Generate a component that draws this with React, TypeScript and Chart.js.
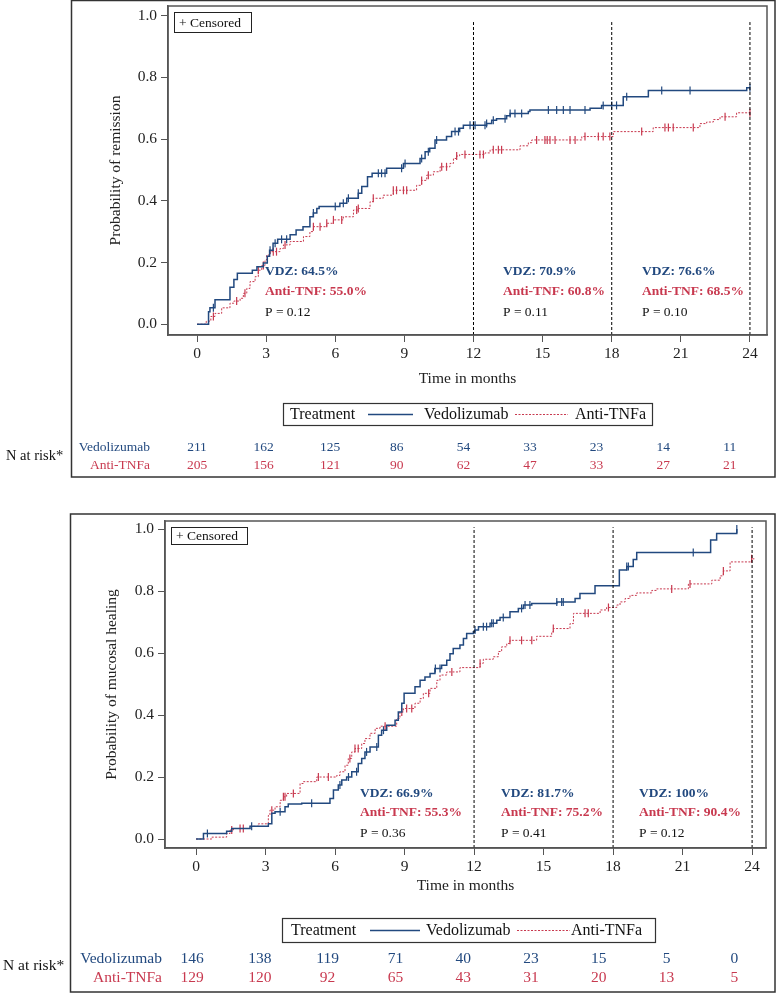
import React, { useEffect, useRef } from "react";
import { Chart, registerables } from "chart.js";

Chart.register(...registerables);

type Pt = [number, number];

const FONT = '"Liberation Serif", "Times New Roman", serif';
const BLUE = "#22497f";
const RED = "#c8394f";

// ---------- shared axis ticks ----------
const monthTicks = [0, 3, 6, 9, 12, 15, 18, 21, 24];
const probTicks = [0, 0.2, 0.4, 0.6, 0.8, 1.0];
const landmarkMonths = [12, 18, 24];
const treatments = ["Vedolizumab", "Anti-TNFa"];

// ---------- Panel 1: remission ----------
const remVdz: Pt[] = [
  [0, 0], [0.5, 0.04], [0.56, 0.053], [0.78, 0.079], [1.43, 0.12], [1.6, 0.145], [1.75, 0.165],
  [2.4, 0.175], [2.6, 0.186], [2.88, 0.198], [3.05, 0.22], [3.15, 0.24], [3.3, 0.262], [3.5, 0.275],
  [4.04, 0.29], [4.3, 0.305], [4.6, 0.316], [4.9, 0.348], [5.05, 0.36], [5.2, 0.375], [5.3, 0.381],
  [6.2, 0.392], [6.5, 0.408], [7.0, 0.424], [7.15, 0.446], [7.4, 0.478], [7.6, 0.489], [8.23, 0.505],
  [8.96, 0.521], [9.68, 0.537], [9.9, 0.559], [10.1, 0.57], [10.33, 0.597], [10.83, 0.608],
  [11.05, 0.624], [11.4, 0.635], [11.56, 0.645], [12.57, 0.65], [12.79, 0.661], [13.0, 0.666],
  [13.44, 0.675], [13.59, 0.683], [14.38, 0.689], [14.45, 0.694], [17.06, 0.7], [17.56, 0.709],
  [18.5, 0.737], [19.59, 0.757], [23.86, 0.766], [24.0, 0.766],
];
const remTnf: Pt[] = [
  [0, 0], [0.4, 0.01], [0.6, 0.025], [0.78, 0.035], [1.07, 0.053], [1.43, 0.068], [1.6, 0.075],
  [1.87, 0.084], [2.01, 0.1], [2.16, 0.116], [2.3, 0.138], [2.52, 0.154], [2.66, 0.175], [2.81, 0.19],
  [2.95, 0.208], [3.02, 0.224], [3.17, 0.235], [3.6, 0.245], [3.75, 0.257], [4.04, 0.268],
  [4.62, 0.284], [4.9, 0.3], [5.05, 0.316], [5.63, 0.327], [5.92, 0.338], [6.35, 0.348], [6.79, 0.37],
  [7.0, 0.375], [7.51, 0.397], [7.65, 0.408], [8.08, 0.418], [8.52, 0.434], [9.53, 0.45], [9.75, 0.466],
  [9.97, 0.483], [10.26, 0.494], [10.55, 0.51], [10.98, 0.521], [11.13, 0.537], [11.27, 0.545],
  [11.4, 0.55], [12.5, 0.555], [12.72, 0.565], [14.02, 0.578], [14.38, 0.588], [14.53, 0.597],
  [16.7, 0.608], [18.07, 0.624], [19.8, 0.637], [21.83, 0.65], [22.12, 0.655], [22.41, 0.663],
  [22.7, 0.672], [23.42, 0.685], [24.0, 0.685],
];
const remVdzCensored = [
  0.71, 3.17, 3.39, 3.67, 3.89, 5.05, 6.0, 6.35, 6.57, 7.0, 7.87, 8.01, 8.16, 8.88, 9.03, 9.75, 10.04,
  10.4, 11.2, 11.35, 11.85, 12.0, 12.07, 12.5, 12.57, 12.86, 13.37, 13.59, 13.8, 14.09, 15.25, 15.61,
  15.9, 16.19, 16.84, 17.63, 18.0, 18.21, 18.65, 20.17, 21.4, 24.0,
];
const remTnfCensored = [
  0.71, 1.72, 2.08, 2.66, 2.88, 3.31, 3.45, 3.82, 5.05, 5.34, 5.63, 5.92, 6.28, 6.93, 7.0, 7.65, 8.52,
  8.66, 8.96, 9.1, 9.75, 10.04, 10.62, 10.83, 11.27, 11.63, 12.28, 12.43, 12.86, 13.08, 13.22, 14.74,
  15.1, 15.2, 15.32, 15.54, 16.19, 16.41, 16.84, 17.42, 17.63, 17.92, 19.3, 20.31, 20.46, 20.67,
  21.54, 22.92, 24.0,
];
const remVdzRates = ["VDZ: 64.5%", "VDZ: 70.9%", "VDZ: 76.6%"];
const remTnfRates = ["Anti-TNF: 55.0%", "Anti-TNF: 60.8%", "Anti-TNF: 68.5%"];
const remPValues = ["P = 0.12", "P = 0.11", "P = 0.10"];
const remRiskVdz = [211, 162, 125, 86, 54, 33, 23, 14, 11];
const remRiskTnf = [205, 156, 121, 90, 62, 47, 33, 27, 21];

// ---------- Panel 2: mucosal healing ----------
const mhVdz: Pt[] = [
  [0, 0], [0.32, 0.018], [1.32, 0.025], [1.54, 0.034], [2.33, 0.041], [3.12, 0.049], [3.27, 0.083],
  [3.41, 0.088], [3.84, 0.104], [3.98, 0.113], [4.56, 0.115], [5.78, 0.131], [5.93, 0.158],
  [6.14, 0.174], [6.29, 0.19], [6.5, 0.2], [6.72, 0.217], [7.0, 0.244], [7.15, 0.26], [7.29, 0.281],
  [7.51, 0.297], [7.87, 0.335], [8.01, 0.351], [8.23, 0.367], [8.59, 0.383], [8.73, 0.41],
  [8.88, 0.438], [8.98, 0.47], [9.45, 0.491], [9.67, 0.512], [9.88, 0.523], [10.1, 0.534],
  [10.31, 0.55], [10.6, 0.561], [10.82, 0.577], [10.96, 0.598], [11.1, 0.615], [11.39, 0.626],
  [11.54, 0.647], [11.68, 0.663], [11.97, 0.669], [12.04, 0.674], [12.19, 0.685], [12.69, 0.696],
  [12.98, 0.706], [13.12, 0.715], [13.55, 0.733], [13.91, 0.744], [14.13, 0.755], [14.49, 0.76],
  [15.57, 0.765], [16.36, 0.776], [16.57, 0.792], [17.22, 0.817], [18.27, 0.868], [18.59, 0.879],
  [18.87, 0.902], [19.02, 0.924], [22.21, 0.965], [22.47, 0.986], [23.34, 1.0],
];
const mhTnf: Pt[] = [
  [0, 0], [0.68, 0.006], [1.32, 0.018], [1.47, 0.029], [1.61, 0.034], [2.33, 0.041], [2.69, 0.049],
  [3.12, 0.076], [3.19, 0.093], [3.41, 0.104], [3.63, 0.125], [3.77, 0.136], [3.91, 0.147],
  [4.49, 0.179], [4.63, 0.185], [5.21, 0.2], [6.07, 0.205], [6.21, 0.217], [6.43, 0.238], [6.57, 0.26],
  [6.72, 0.281], [6.86, 0.292], [7.15, 0.308], [7.29, 0.324], [7.51, 0.341], [7.73, 0.357],
  [7.94, 0.364], [8.66, 0.389], [8.8, 0.41], [8.95, 0.421], [9.45, 0.438], [9.67, 0.453], [9.81, 0.47],
  [10.1, 0.486], [10.39, 0.512], [10.53, 0.529], [10.82, 0.539], [11.39, 0.553], [12.26, 0.567],
  [12.4, 0.58], [12.83, 0.588], [13.05, 0.605], [13.19, 0.62], [13.41, 0.631], [13.55, 0.641],
  [14.7, 0.654], [15.35, 0.668], [15.42, 0.679], [16.14, 0.695], [16.29, 0.728], [17.44, 0.739],
  [17.72, 0.747], [18.16, 0.755], [18.3, 0.765], [18.52, 0.776], [18.73, 0.786], [19.02, 0.794],
  [19.67, 0.802], [19.88, 0.807], [21.25, 0.823], [22.26, 0.835], [22.62, 0.849], [22.76, 0.865],
  [23.05, 0.894], [23.98, 0.904], [24.1, 0.904],
];
const mhVdzCensored = [
  0.49, 2.4, 3.63, 4.99, 6.21, 6.58, 6.93, 7.36, 7.8, 8.09, 10.33, 10.53, 12.04, 12.4, 12.54, 12.76,
  12.83, 13.26, 14.05, 14.2, 14.41, 15.57, 15.78, 15.85, 18.59, 18.66, 21.46, 23.34,
];
const mhTnfCensored = [
  1.54, 1.9, 2.04, 3.27, 3.77, 3.84, 4.2, 5.28, 5.71, 6.64, 6.86, 7.0, 8.16, 8.88, 9.09, 9.31, 10.04,
  11.04, 12.26, 13.55, 14.05, 14.49, 15.42, 16.79, 16.93, 17.8, 20.53, 21.32, 22.76, 23.98,
];
const mhVdzRates = ["VDZ: 66.9%", "VDZ: 81.7%", "VDZ: 100%"];
const mhTnfRates = ["Anti-TNF: 55.3%", "Anti-TNF: 75.2%", "Anti-TNF: 90.4%"];
const mhPValues = ["P = 0.36", "P = 0.41", "P = 0.12"];
const mhRiskVdz = [146, 138, 119, 71, 40, 23, 15, 5, 0];
const mhRiskTnf = [129, 120, 92, 65, 43, 31, 20, 13, 5];

function stepAt(curve: Pt[], t: number): number {
  let v = 0;
  for (const [x, y] of curve) if (x <= t) v = y;
  return v;
}

const panels = [
  {
    top: 0, height: 496, yTitle: "Probability of remission",
    vdz: remVdz, tnf: remTnf, vdzC: remVdzCensored, tnfC: remTnfCensored,
    vdzRates: remVdzRates, tnfRates: remTnfRates, pVals: remPValues,
    riskVdz: remRiskVdz, riskTnf: remRiskTnf,
    pad: { left: 103, right: 11, top: 6, bottom: 104 }, yAxisW: 65, xAxisH: 57,
    xMin: -1.26, xMax: 24.74, yMin: -0.035, yMax: 1.031, landTop: 0.979,
    frame: { l: 71.5, t: 0.5, r: 775, b: 477 },
    cens: { x: 174, y: 12, w: 77, h: 20, font: 13.5 },
    ann: { x: [265, 503, 642], y: [272, 292, 312], font: 13.5 },
    legend: { x: 283, y: 403, w: 369, h: 22, tx: 290, l1: [368, 413], vx: 424, l2: [515, 568], ax: 575, font: 16 },
    risk: { right: 150, y: [447, 465], x0: 197, dx: 66.6, font: 13.5, nx: 6, ny: 456, nfont: 14.5 },
  },
  {
    top: 496, height: 497, yTitle: "Probability of mucosal healing",
    vdz: mhVdz, tnf: mhTnf, vdzC: mhVdzCensored, tnfC: mhTnfCensored,
    vdzRates: mhVdzRates, tnfRates: mhTnfRates, pVals: mhPValues,
    riskVdz: mhRiskVdz, riskTnf: mhRiskTnf,
    pad: { left: 99, right: 12, top: 25, bottom: 94 }, yAxisW: 66, xAxisH: 51,
    xMin: -1.34, xMax: 24.6, yMin: -0.029, yMax: 1.026, landTop: 1.006,
    frame: { l: 70.5, t: 18, r: 775, b: 496 },
    cens: { x: 171, y: 31, w: 76, h: 17, font: 13.5 },
    ann: { x: [360, 501, 639], y: [298, 317, 337], font: 13.5 },
    legend: { x: 282, y: 422, w: 373, h: 24, tx: 291, l1: [370, 420], vx: 426, l2: [517, 570], ax: 571, font: 16 },
    risk: { right: 162, y: [463, 482], x0: 192, dx: 67.8, font: 15.5, nx: 3, ny: 470, nfont: 15.5 },
  },
];

type Panel = (typeof panels)[number];

function KMPanel({ p }: { p: Panel }) {
  const ref = useRef<HTMLCanvasElement | null>(null);
  useEffect(() => {
    if (!ref.current) return;
    const overlay = {
      id: "overlay",
      afterDraw(chart: any) {
        const ctx: CanvasRenderingContext2D = chart.ctx;
        const a = chart.chartArea;
        ctx.save();
        // plot frame
        ctx.strokeStyle = "#555";
        ctx.lineWidth = 1.5;
        ctx.strokeRect(a.left, a.top, a.right - a.left, a.bottom - a.top);
        // outer frame
        ctx.strokeStyle = "#333";
        ctx.lineWidth = 1.5;
        ctx.strokeRect(p.frame.l, p.frame.t, p.frame.r - p.frame.l, p.frame.b - p.frame.t);
        // censored box
        ctx.lineWidth = 1;
        ctx.strokeStyle = "#222";
        ctx.strokeRect(p.cens.x + 0.5, p.cens.y + 0.5, p.cens.w, p.cens.h);
        ctx.fillStyle = "#111";
        ctx.font = `${p.cens.font}px ${FONT}`;
        ctx.textBaseline = "middle";
        ctx.textAlign = "left";
        ctx.fillText("+ Censored", p.cens.x + 5, p.cens.y + p.cens.h / 2 + 1);
        // landmark annotations
        for (let i = 0; i < 3; i++) {
          ctx.font = `bold ${p.ann.font}px ${FONT}`;
          ctx.fillStyle = BLUE;
          ctx.fillText(p.vdzRates[i], p.ann.x[i], p.ann.y[0]);
          ctx.fillStyle = RED;
          ctx.fillText(p.tnfRates[i], p.ann.x[i], p.ann.y[1]);
          ctx.font = `${p.ann.font}px ${FONT}`;
          ctx.fillStyle = "#111";
          ctx.fillText(p.pVals[i], p.ann.x[i], p.ann.y[2]);
        }
        // legend
        const L = p.legend;
        const ly = L.y + L.h / 2;
        ctx.strokeStyle = "#333";
        ctx.lineWidth = 1.2;
        ctx.strokeRect(L.x + 0.5, L.y + 0.5, L.w, L.h);
        ctx.font = `${L.font}px ${FONT}`;
        ctx.fillStyle = "#111";
        ctx.fillText("Treatment", L.tx, ly + 1);
        ctx.strokeStyle = BLUE;
        ctx.lineWidth = 1.5;
        ctx.beginPath();
        ctx.moveTo(L.l1[0], ly + 0.5);
        ctx.lineTo(L.l1[1], ly + 0.5);
        ctx.stroke();
        ctx.fillText(treatments[0], L.vx, ly + 1);
        ctx.strokeStyle = RED;
        ctx.lineWidth = 1;
        ctx.setLineDash([2, 1.5]);
        ctx.beginPath();
        ctx.moveTo(L.l2[0], ly + 0.5);
        ctx.lineTo(L.l2[1], ly + 0.5);
        ctx.stroke();
        ctx.setLineDash([]);
        ctx.fillText(treatments[1], L.ax, ly + 1);
        // numbers at risk
        const R = p.risk;
        ctx.font = `${R.nfont}px ${FONT}`;
        ctx.fillStyle = "#111";
        ctx.textAlign = "left";
        ctx.fillText("N at risk*", R.nx, R.ny);
        ctx.font = `${R.font}px ${FONT}`;
        ctx.textAlign = "right";
        ctx.fillStyle = BLUE;
        ctx.fillText(treatments[0], R.right, R.y[0]);
        ctx.fillStyle = RED;
        ctx.fillText(treatments[1], R.right, R.y[1]);
        ctx.textAlign = "center";
        p.riskVdz.forEach((n, i) => {
          ctx.fillStyle = BLUE;
          ctx.fillText(String(n), R.x0 + i * R.dx, R.y[0]);
        });
        p.riskTnf.forEach((n, i) => {
          ctx.fillStyle = RED;
          ctx.fillText(String(n), R.x0 + i * R.dx, R.y[1]);
        });
        ctx.restore();
      },
    };

    const landmarkSets = landmarkMonths.map((m) => ({
      data: [{ x: m, y: p.yMin }, { x: m, y: p.landTop }],
      showLine: true,
      borderColor: "#000",
      borderWidth: 1,
      borderDash: [3, 2],
      pointRadius: 0,
    }));

    const chart = new Chart(ref.current, {
      type: "scatter",
      data: {
        datasets: [
          ...landmarkSets,
          {
            label: treatments[0],
            data: p.vdz.map(([x, y]) => ({ x, y })),
            showLine: true,
            stepped: true,
            borderColor: BLUE,
            borderWidth: 1.5,
            pointRadius: 0,
          },
          {
            label: treatments[1],
            data: p.tnf.map(([x, y]) => ({ x, y })),
            showLine: true,
            stepped: true,
            borderColor: RED,
            borderWidth: 1,
            borderDash: [2, 1.5],
            pointRadius: 0,
          },
          {
            data: p.vdzC.map((t) => ({ x: t, y: stepAt(p.vdz, t) })),
            showLine: false,
            pointStyle: "line",
            rotation: 90,
            pointRadius: 4,
            borderColor: BLUE,
            borderWidth: 1.2,
          },
          {
            data: p.tnfC.map((t) => ({ x: t, y: stepAt(p.tnf, t) })),
            showLine: false,
            pointStyle: "line",
            rotation: 90,
            pointRadius: 4,
            borderColor: RED,
            borderWidth: 1.2,
          },
        ] as any,
      },
      options: {
        animation: false,
        responsive: false,
        maintainAspectRatio: false,
        layout: { padding: p.pad },
        plugins: { legend: { display: false }, tooltip: { enabled: false }, title: { display: false } },
        scales: {
          x: {
            type: "linear",
            min: p.xMin,
            max: p.xMax,
            afterBuildTicks: (s: any) => {
              s.ticks = monthTicks.map((v) => ({ value: v }));
            },
            afterFit: (s: any) => {
              s.height = p.xAxisH;
              s.paddingLeft = 0;
              s.paddingRight = 0;
              s.paddingTop = 0;
              s.paddingBottom = 0;
            },
            grid: { drawOnChartArea: false, drawTicks: true, tickLength: 7, color: "#555", lineWidth: 1 },
            border: { display: true, color: "#555", width: 1.5 },
            ticks: { font: { family: FONT, size: 15.5 }, color: "#222", padding: 3, maxRotation: 0, autoSkip: false },
            title: {
              display: true,
              text: "Time in months",
              font: { family: FONT, size: 15.5 },
              color: "#222",
              padding: { top: 0, bottom: 4 },
            },
          },
          y: {
            type: "linear",
            min: p.yMin,
            max: p.yMax,
            afterBuildTicks: (s: any) => {
              s.ticks = probTicks.map((v) => ({ value: v }));
            },
            afterFit: (s: any) => {
              s.width = p.yAxisW;
              s.paddingLeft = 0;
              s.paddingRight = 0;
              s.paddingTop = 0;
              s.paddingBottom = 0;
            },
            grid: { drawOnChartArea: false, drawTicks: true, tickLength: 7, color: "#555", lineWidth: 1 },
            border: { display: true, color: "#555", width: 1.5 },
            ticks: {
              font: { family: FONT, size: 15.5 },
              color: "#222",
              padding: 4,
              callback: (v: any) => Number(v).toFixed(1),
            },
            title: {
              display: true,
              text: p.yTitle,
              font: { family: FONT, size: 15.5 },
              color: "#222",
              padding: { top: 4, bottom: 0 },
            },
          },
        },
      } as any,
      plugins: [overlay],
    });
    return () => chart.destroy();
  }, [p]);
  return (
    <canvas
      ref={ref}
      width={778}
      height={p.height}
      style={{ position: "absolute", left: 0, top: p.top, display: "block", width: 778, height: p.height }}
    />
  );
}

export default function App() {
  return (
    <div style={{ position: "absolute", left: 0, top: 0, width: 778, height: 993, background: "#fff", overflow: "hidden" }}>
      {panels.map((p, i) => (
        <KMPanel key={i} p={p} />
      ))}
    </div>
  );
}
